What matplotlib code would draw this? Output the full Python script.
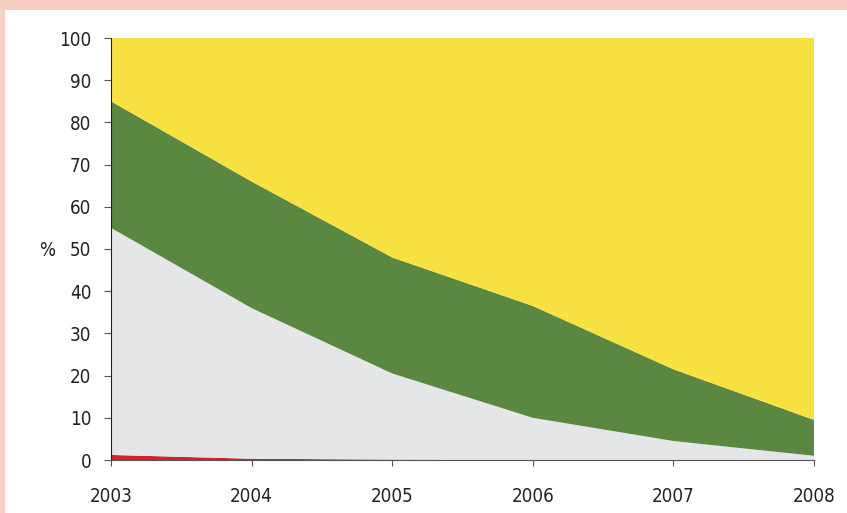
import matplotlib
matplotlib.use("Agg")
import matplotlib.pyplot as plt
from matplotlib.patches import Rectangle

years = [2003, 2004, 2005, 2006, 2007, 2008]
red = [1.2, 0.3, 0.1, 0.0, 0.0, 0.0]
grey = [53.8, 35.7, 20.4, 10.0, 4.5, 1.0]
green = [30.0, 30.0, 27.5, 26.5, 17.0, 8.5]
yellow = [15.0, 34.0, 52.0, 63.5, 78.5, 90.5]

plt.rcParams['font.family'] = ['DejaVu Sans']
plt.rcParams['font.stretch'] = 'condensed'

fig = plt.figure(figsize=(8.47, 5.13), dpi=100)
fig.patch.set_facecolor("white")
border = "#F7D0C2"
fig.patches.append(Rectangle((0, 1 - 10 / 513), 1, 10 / 513, transform=fig.transFigure,
                             facecolor=border, edgecolor="none", zorder=0))
fig.patches.append(Rectangle((0, 0), 5 / 847, 1, transform=fig.transFigure,
                             facecolor=border, edgecolor="none", zorder=0))

ax = fig.add_axes([111 / 847, 53 / 513, 703 / 847, 422 / 513])
ax.stackplot(years, red, grey, green, yellow,
             colors=["#D7212A", "#E5E6E8", "#5A8841", "#F7E241"], linewidth=0)

ax.set_xlim(2003, 2008)
ax.set_ylim(0, 100)
ax.set_xticks(years)
ax.set_yticks(range(0, 101, 10))
for s in ["top", "right"]:
    ax.spines[s].set_visible(False)
ax.spines["left"].set_color("#222222")
ax.spines["bottom"].set_color("#555555")
ax.tick_params(axis="x", length=4.3, color="#555555", pad=15, labelsize=13.5, labelcolor="#222222")
ax.tick_params(axis="y", length=5, color="#555555", pad=9, labelsize=13.5, labelcolor="#222222")
ax.set_ylabel("%", rotation=0, fontsize=13.5, color="#222222", va="center", ha="center")
ax.yaxis.set_label_coords(-0.091, 0.4976)

fig.savefig("out.png", dpi=100)
